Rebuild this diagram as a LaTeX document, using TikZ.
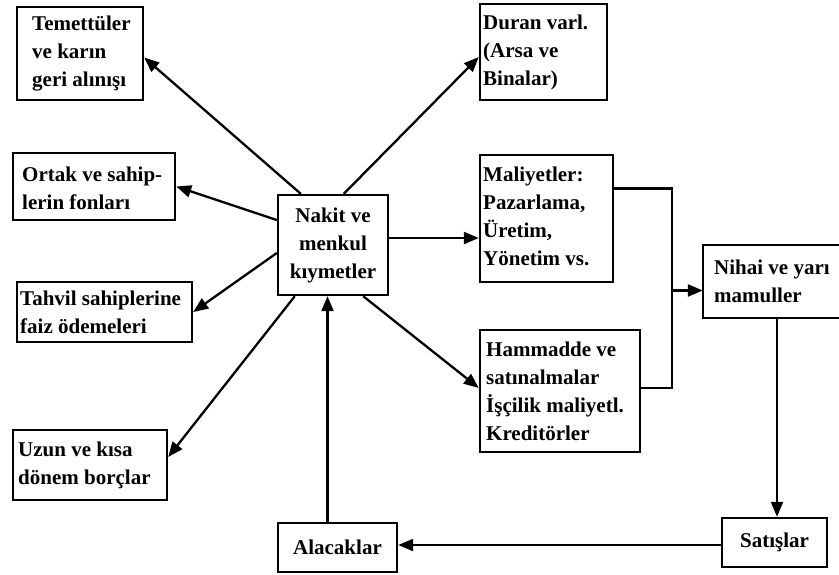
\documentclass[tikz,border=0pt]{standalone}
\usepackage{fontspec}
\setmainfont{Liberation Serif}
\usetikzlibrary{arrows.meta}
\tikzset{
  box/.style={draw, line width=2.4pt, inner sep=0pt, minimum width=#1},
  openbox/.style={inner sep=0pt, minimum width=#1},
  edge/.style={line width=2.4pt},
  txt/.style={anchor=west, inner sep=0pt, align=left,
    font=\bfseries\fontsize{21}{28}\selectfont},
  ctxt/.style={inner sep=0pt, align=center,
    font=\bfseries\fontsize{21}{28}\selectfont},
  flow/.style={line width=2.3pt, -{Triangle[length=15pt,width=12pt]}},
  wire/.style={line width=2.3pt}
}
\begin{document}
\begin{tikzpicture}[x=1pt,y=-1pt]
\useasboundingbox (0,0) rectangle (839,574);

% boxes
\node[box=126, minimum height=93] (tem) at (80,53.5) {};
\node[box=162, minimum height=67] (ortak) at (94,186.5) {};
\node[box=110, minimum height=100] (nakit) at (333,245) {};
\node[box=175, minimum height=60] (tahvil) at (104.5,312) {};
\node[box=154, minimum height=70] (uzun) at (90,465) {};
\node[box=119, minimum height=49] (alacak) at (337.5,547.5) {};
\node[box=127, minimum height=96] (duran) at (543.5,52) {};
\node[box=133, minimum height=127] (maliyet) at (546.5,218.5) {};
\node[box=160, minimum height=122] (hamm) at (560,391) {};
\node[box=105, minimum height=49] (satis) at (774.5,542.5) {};
% this box runs on past the right margin
\node[openbox=180, minimum height=73] (nihai) at (793,281.5) {};
\draw[edge] (nihai.north east) -- (nihai.north west) -- (nihai.south west) -- (nihai.south east);

% texts
\node[txt] (tem-t) at (32,53.5) {Temettüler\\ve karın\\geri alınışı};
\node[txt] (ortak-t) at (22,188) {Ortak ve sahip-\\lerin fonları};
\node[ctxt] (nakit-t) at (nakit) {Nakit ve\\menkul\\kıymetler};
\node[txt] (tahvil-t) at (20,312) {Tahvil sahiplerine\\faiz ödemeleri};
\node[txt] (uzun-t) at (18,465) {Uzun ve kısa\\dönem borçlar};
\node[ctxt] (alacak-t) at (alacak) {Alacaklar};
\node[txt] (duran-t) at (483,52) {Duran varl.\\(Arsa ve\\Binalar)};
\node[txt] (maliyet-t) at (483,216) {Maliyetler:\\Pazarlama,\\Üretim,\\Yönetim vs.};
\node[txt] (hamm-t) at (486,391) {Hammadde ve\\satınalmalar\\İşçilik maliyetl.\\Kreditörler};
\node[txt] (nihai-t) at (714,281.5) {Nihai ve yarı\\mamuller};
\node[ctxt] (satis-t) at (satis) {Satışlar};

% flows out of cash
\draw[flow] ([xshift=24]nakit.north west) -- ([yshift=-4]tem.east);
\draw[flow] ([xshift=67]nakit.north west) -- ([yshift=-5]duran.west);
\draw[flow] ([yshift=25]nakit.west) -- (ortak.east);
\draw[flow] ([yshift=-8]nakit.west) -- (tahvil.east);
\draw[flow] ([xshift=18]nakit.south west) -- ([yshift=8]uzun.east);
\coordinate (nm) at ([yshift=7]nakit.east);
\draw[flow] (nm) -- (nm -| maliyet.west);
\draw[flow] ([xshift=-26]nakit.south east) -- ([yshift=3]hamm.west);

% production side
\coordinate (jx) at (672,0);
\coordinate (mo) at ([yshift=30]maliyet.east);
\coordinate (ho) at ([yshift=3]hamm.east);
\coordinate (ni) at ([yshift=-9]nihai.west);
\draw[wire] (mo) -- (mo -| jx) -- (ho -| jx) -- (ho);
\draw[flow] (ni -| jx) -- (ni);

\coordinate (sx) at (777,0);
\draw[flow] (nihai.south -| sx) -- (satis.north -| sx);
\coordinate (so) at ([yshift=-2.5]satis.west);
\draw[flow] (so) -- (so -| alacak.east);
\coordinate (ax) at ([xshift=-10]alacak.north);
\draw[flow] (ax) -- (ax |- nakit.south);
\end{tikzpicture}
\end{document}
